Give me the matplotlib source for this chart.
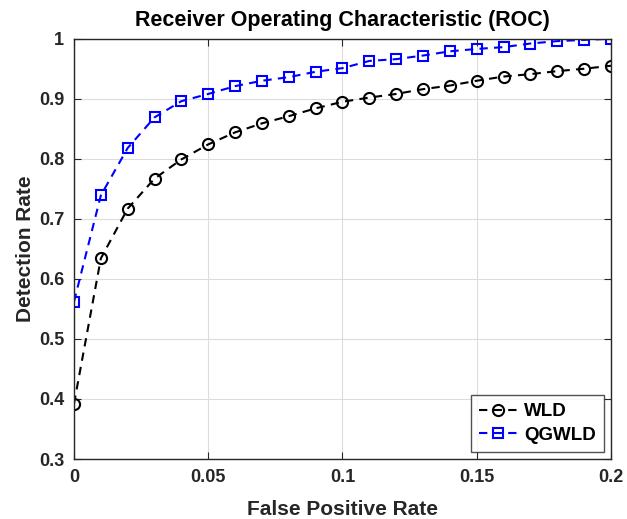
import numpy as np
import matplotlib
matplotlib.use("Agg")
import matplotlib.pyplot as plt

plt.rcParams['font.family'] = ['Liberation Sans', 'DejaVu Sans']

# false positive rate (x) and detection rate for both methods
fpr = [0.00, 0.01, 0.02, 0.03, 0.04, 0.05, 0.06, 0.07, 0.08, 0.09, 0.10,
       0.11, 0.12, 0.13, 0.14, 0.15, 0.16, 0.17, 0.18, 0.19, 0.20]
wld = [0.392, 0.634, 0.717, 0.767, 0.799, 0.824, 0.844, 0.859, 0.871, 0.884, 0.895,
       0.902, 0.908, 0.916, 0.922, 0.930, 0.937, 0.941, 0.946, 0.950, 0.955]
qgwld = [0.562, 0.739, 0.818, 0.869, 0.896, 0.908, 0.921, 0.930, 0.936, 0.945, 0.951,
         0.963, 0.966, 0.972, 0.979, 0.983, 0.986, 0.992, 0.996, 0.998, 1.000]

xticks = [0, 0.05, 0.1, 0.15, 0.2]
xtick_labels = ['0', '0.05', '0.1', '0.15', '0.2']
yticks = [0.3, 0.4, 0.5, 0.6, 0.7, 0.8, 0.9, 1.0]
ytick_labels = ['0.3', '0.4', '0.5', '0.6', '0.7', '0.8', '0.9', '1']

fig = plt.figure(figsize=(6.27, 5.19), dpi=100)
ax = fig.add_axes([0.118, 0.1156, 0.8565, 0.8098])

ax.plot(fpr, wld, '--o', color='black', lw=1.5, ms=8, mfc='none', mew=1.5,
        dashes=(4, 3), label='WLD')
ax.plot(fpr, qgwld, '--s', color='blue', lw=1.5, ms=7, mfc='none', mew=1.5,
        dashes=(4, 3), label='QGWLD')

ax.set_xlim(0, 0.2)
ax.set_ylim(0.3, 1.0)
ax.set_xticks(xticks)
ax.set_xticklabels(xtick_labels)
ax.set_yticks(yticks)
ax.set_yticklabels(ytick_labels)
ax.grid(True, color='#dcdcdc', lw=0.8)
ax.set_axisbelow(True)

for s in ax.spines.values():
    s.set_color('#262626')
    s.set_linewidth(1.0)
ax.tick_params(direction='in', length=5, width=0.8, color='#262626',
               top=True, right=True, labelsize=13, pad=7)
for lab in ax.get_xticklabels() + ax.get_yticklabels():
    lab.set_fontweight('bold')
    lab.set_color('#262626')

ax.set_xlabel('False Positive Rate', fontsize=15, fontweight='bold', color='#262626', labelpad=10)
ax.set_ylabel('Detection Rate', fontsize=15, fontweight='bold', color='#262626', labelpad=3)
ax.set_title('Receiver Operating Characteristic (ROC)', fontsize=15.5, fontweight='bold',
             color='#000000', pad=9)

leg = ax.legend(loc='lower right', prop={'weight': 'bold', 'size': 13.5},
                frameon=True, fancybox=False, edgecolor='#262626', handlelength=2.0,
                borderaxespad=0.35, labelspacing=0.35, handletextpad=0.4, borderpad=0.45)
leg.get_frame().set_linewidth(1.0)

fig.savefig('out.png', dpi=100)
